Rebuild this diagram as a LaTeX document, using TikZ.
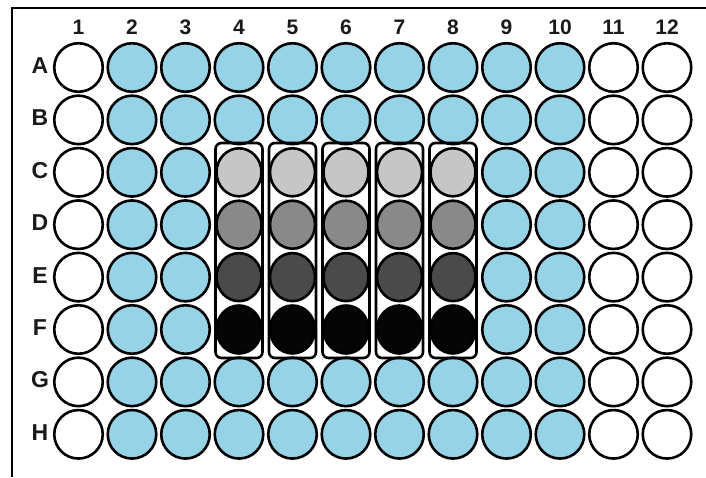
\documentclass[tikz,border=0pt]{standalone}
\usepackage{fontspec}
\setmainfont{Liberation Sans}
\usetikzlibrary{shapes.geometric}
\definecolor{wellblue}{HTML}{96D3E6}
\definecolor{g1}{HTML}{C6C6C6}
\definecolor{g2}{HTML}{898989}
\definecolor{g3}{HTML}{4A4A4A}
\definecolor{g4}{HTML}{050505}
\definecolor{ink}{HTML}{1A1A1A}
\begin{document}
\begin{tikzpicture}[x=1pt,y=-1pt,
  well/.style={circle,draw=black,line width=2.6pt,minimum size=48.5pt,inner sep=0pt},
  swell/.style={ellipse,draw=black,line width=2.6pt,minimum width=45pt,minimum height=48pt,inner sep=0pt},
  grp/.style={rectangle,rounded corners=6pt,draw=black,line width=2.6pt,minimum width=47pt,minimum height=215pt,inner sep=0pt},
  clbl/.style={font=\bfseries,text=ink,inner sep=0pt,scale=2.1},
  rlbl/.style={font=\bfseries,text=ink,inner sep=0pt,scale=2.3}]
\useasboundingbox (0,0) rectangle (706,477);
\fill[white] (0,0) rectangle (706,477);
\draw[line width=2.2pt] (12,477) -- (12,8) -- (706,8);
% column labels
\foreach \c in {1,...,12}{
  \node[clbl] (col\c) at ({78.5+53.5*(\c-1)},27) {\c};
}
% row labels
\foreach \r/\L in {1/A,2/B,3/C,4/D,5/E,6/F,7/G,8/H}{
  \node[rlbl] (row\L) at (40,{65.5+52.4*(\r-1)}) {\L};
}
% wells
\foreach \r/\L in {1/A,2/B,3/C,4/D,5/E,6/F,7/G,8/H}{
  \foreach \c in {1,...,12}{
    \pgfmathsetmacro{\xx}{78.5+53.5*(\c-1)}
    \pgfmathsetmacro{\yy}{67.5+52.4*(\r-1)}
    \ifnum\c=1
      \node[well,fill=white] (w\L\c) at (\xx,\yy) {};
    \else\ifnum\c>10
      \node[well,fill=white] (w\L\c) at (\xx,\yy) {};
    \else
      \ifnum\r>2 \ifnum\r<7 \ifnum\c>3 \ifnum\c<9
        \relax
      \else
        \node[well,fill=wellblue] (w\L\c) at (\xx,\yy) {};
      \fi\else
        \node[well,fill=wellblue] (w\L\c) at (\xx,\yy) {};
      \fi\else
        \node[well,fill=wellblue] (w\L\c) at (\xx,\yy) {};
      \fi\else
        \node[well,fill=wellblue] (w\L\c) at (\xx,\yy) {};
      \fi
    \fi\fi
  }
}
% grey gradient wells in columns 4-8
\foreach \c in {4,...,8}{
  \pgfmathsetmacro{\xx}{78.5+53.5*(\c-1)}
  \foreach \r/\L/\col in {3/C/g1,4/D/g2,5/E/g3,6/F/g4}{
    \pgfmathsetmacro{\yy}{67.5+52.4*(\r-1)}
    \node[swell,fill=\col] (w\L\c) at (\xx,\yy) {};
  }
  \node[grp] (grp\c) at (\xx,250.5) {};
}
\end{tikzpicture}
\end{document}
